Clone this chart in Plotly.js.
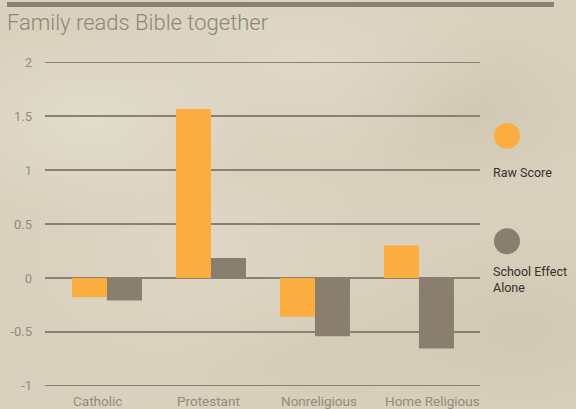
<!DOCTYPE html>
<html>
<head>
<meta charset="utf-8">
<script src="https://cdn.plot.ly/plotly-3.0.1.min.js"></script>
<style>
  html, body { margin: 0; padding: 0; }
  body {
    width: 576px; height: 409px; overflow: hidden; position: relative;
    background-color: #d9d1bd;
    background-image:
      radial-gradient(ellipse 170px 100px at 90px 120px, rgba(232,227,215,0.6), rgba(232,227,215,0)),
      radial-gradient(ellipse 200px 110px at 300px 60px, rgba(230,224,211,0.5), rgba(230,224,211,0)),
      radial-gradient(ellipse 180px 120px at 200px 250px, rgba(228,222,208,0.45), rgba(228,222,208,0)),
      radial-gradient(ellipse 140px 90px at 470px 110px, rgba(198,188,165,0.4), rgba(198,188,165,0)),
      radial-gradient(ellipse 160px 110px at 520px 330px, rgba(200,190,166,0.45), rgba(200,190,166,0)),
      radial-gradient(ellipse 170px 90px at 330px 360px, rgba(206,196,174,0.4), rgba(206,196,174,0));
  }
  #topbar { position: absolute; left: 7px; top: 2px; width: 547px; height: 5px; background: #8a8171; }
  #chart { position: absolute; left: 0; top: 0; width: 576px; height: 409px; }
</style>
</head>
<body>
<div id="topbar"></div>
<div id="chart"></div>
<script>
const categories = ["Catholic", "Protestant", "Nonreligious", "Home Religious"];
const rawScore = [-0.18, 1.565, -0.36, 0.30];
const schoolEffect = [-0.21, 0.185, -0.54, -0.655];
const seriesNames = ["Raw Score", "School Effect<br>Alone"];
const yTicks = [-1, -0.5, 0, 0.5, 1, 1.5, 2];

const orange = "#fbae3f";
const gray = "#8a7f6e";
const idx = categories.map((c, i) => i);

const traces = [
  { x: idx, y: rawScore, type: "bar", name: "Raw Score", marker: { color: orange }, hoverinfo: "y" },
  { x: idx, y: schoolEffect, type: "bar", name: "School Effect Alone", marker: { color: gray }, hoverinfo: "y" }
];

// category labels sit left-aligned under the first bar of each group
const labelAnnotations = categories.map((c, i) => ({
  x: i - 0.345, y: -1, xref: "x", yref: "y",
  xanchor: "left", yanchor: "top", yshift: -5,
  text: c, showarrow: false,
  font: { family: "Roboto, sans-serif", size: 13.5, color: "#948b7b" }
}));

// legend drawn by hand: circles + text on the right
const legendY = [0.7685, 0.4475];
const legendTextY = [0.657, 0.332];
const legendColors = [orange, gray];
const legendShapes = legendColors.map((col, i) => ({
  type: "circle", xref: "paper", yref: "paper",
  xsizemode: "pixel", ysizemode: "pixel",
  xanchor: 1.062, yanchor: legendY[i],
  x0: -13, x1: 13, y0: -13, y1: 13,
  fillcolor: col, line: { width: 0 }
}));
const legendAnnotations = seriesNames.map((n, i) => ({
  x: 1.026, y: legendTextY[i], xref: "paper", yref: "paper",
  xanchor: "left", yanchor: "middle", align: "left",
  text: n, showarrow: false,
  font: { family: "Roboto, sans-serif", size: 12.5, color: "#33312d" }
}));

const layout = {
  width: 576, height: 409,
  margin: { l: 45, r: 96, t: 60, b: 21 },
  paper_bgcolor: "rgba(0,0,0,0)",
  plot_bgcolor: "rgba(0,0,0,0)",
  showlegend: false,
  barmode: "group",
  bargap: 0.327,
  bargroupgap: 0,
  title: {
    text: "Family reads Bible together",
    x: 0.012, xanchor: "left", xref: "container",
    y: 0.946, yanchor: "middle", yref: "container",
    font: { family: "Roboto, sans-serif", size: 22, color: "#8d8777", weight: 300 }
  },
  xaxis: {
    range: [-0.596, 3.587],
    showticklabels: false, showgrid: false, zeroline: false,
    showline: false, ticks: "", fixedrange: true
  },
  yaxis: {
    range: [-1.02, 2.02],
    tickvals: yTicks,
    ticktext: yTicks.map(String),
    showgrid: true, gridcolor: "#8a8171", gridwidth: 1.3,
    zeroline: true, zerolinecolor: "#8a8171", zerolinewidth: 1.3,
    showline: false, ticks: "",
    ticklabelstandoff: 12,
    tickfont: { family: "Roboto, sans-serif", size: 13, color: "#948b7b" },
    fixedrange: true
  },
  shapes: legendShapes,
  annotations: labelAnnotations.concat(legendAnnotations)
};

Plotly.newPlot("chart", traces, layout, { displayModeBar: false, staticPlot: true });
</script>
</body>
</html>
